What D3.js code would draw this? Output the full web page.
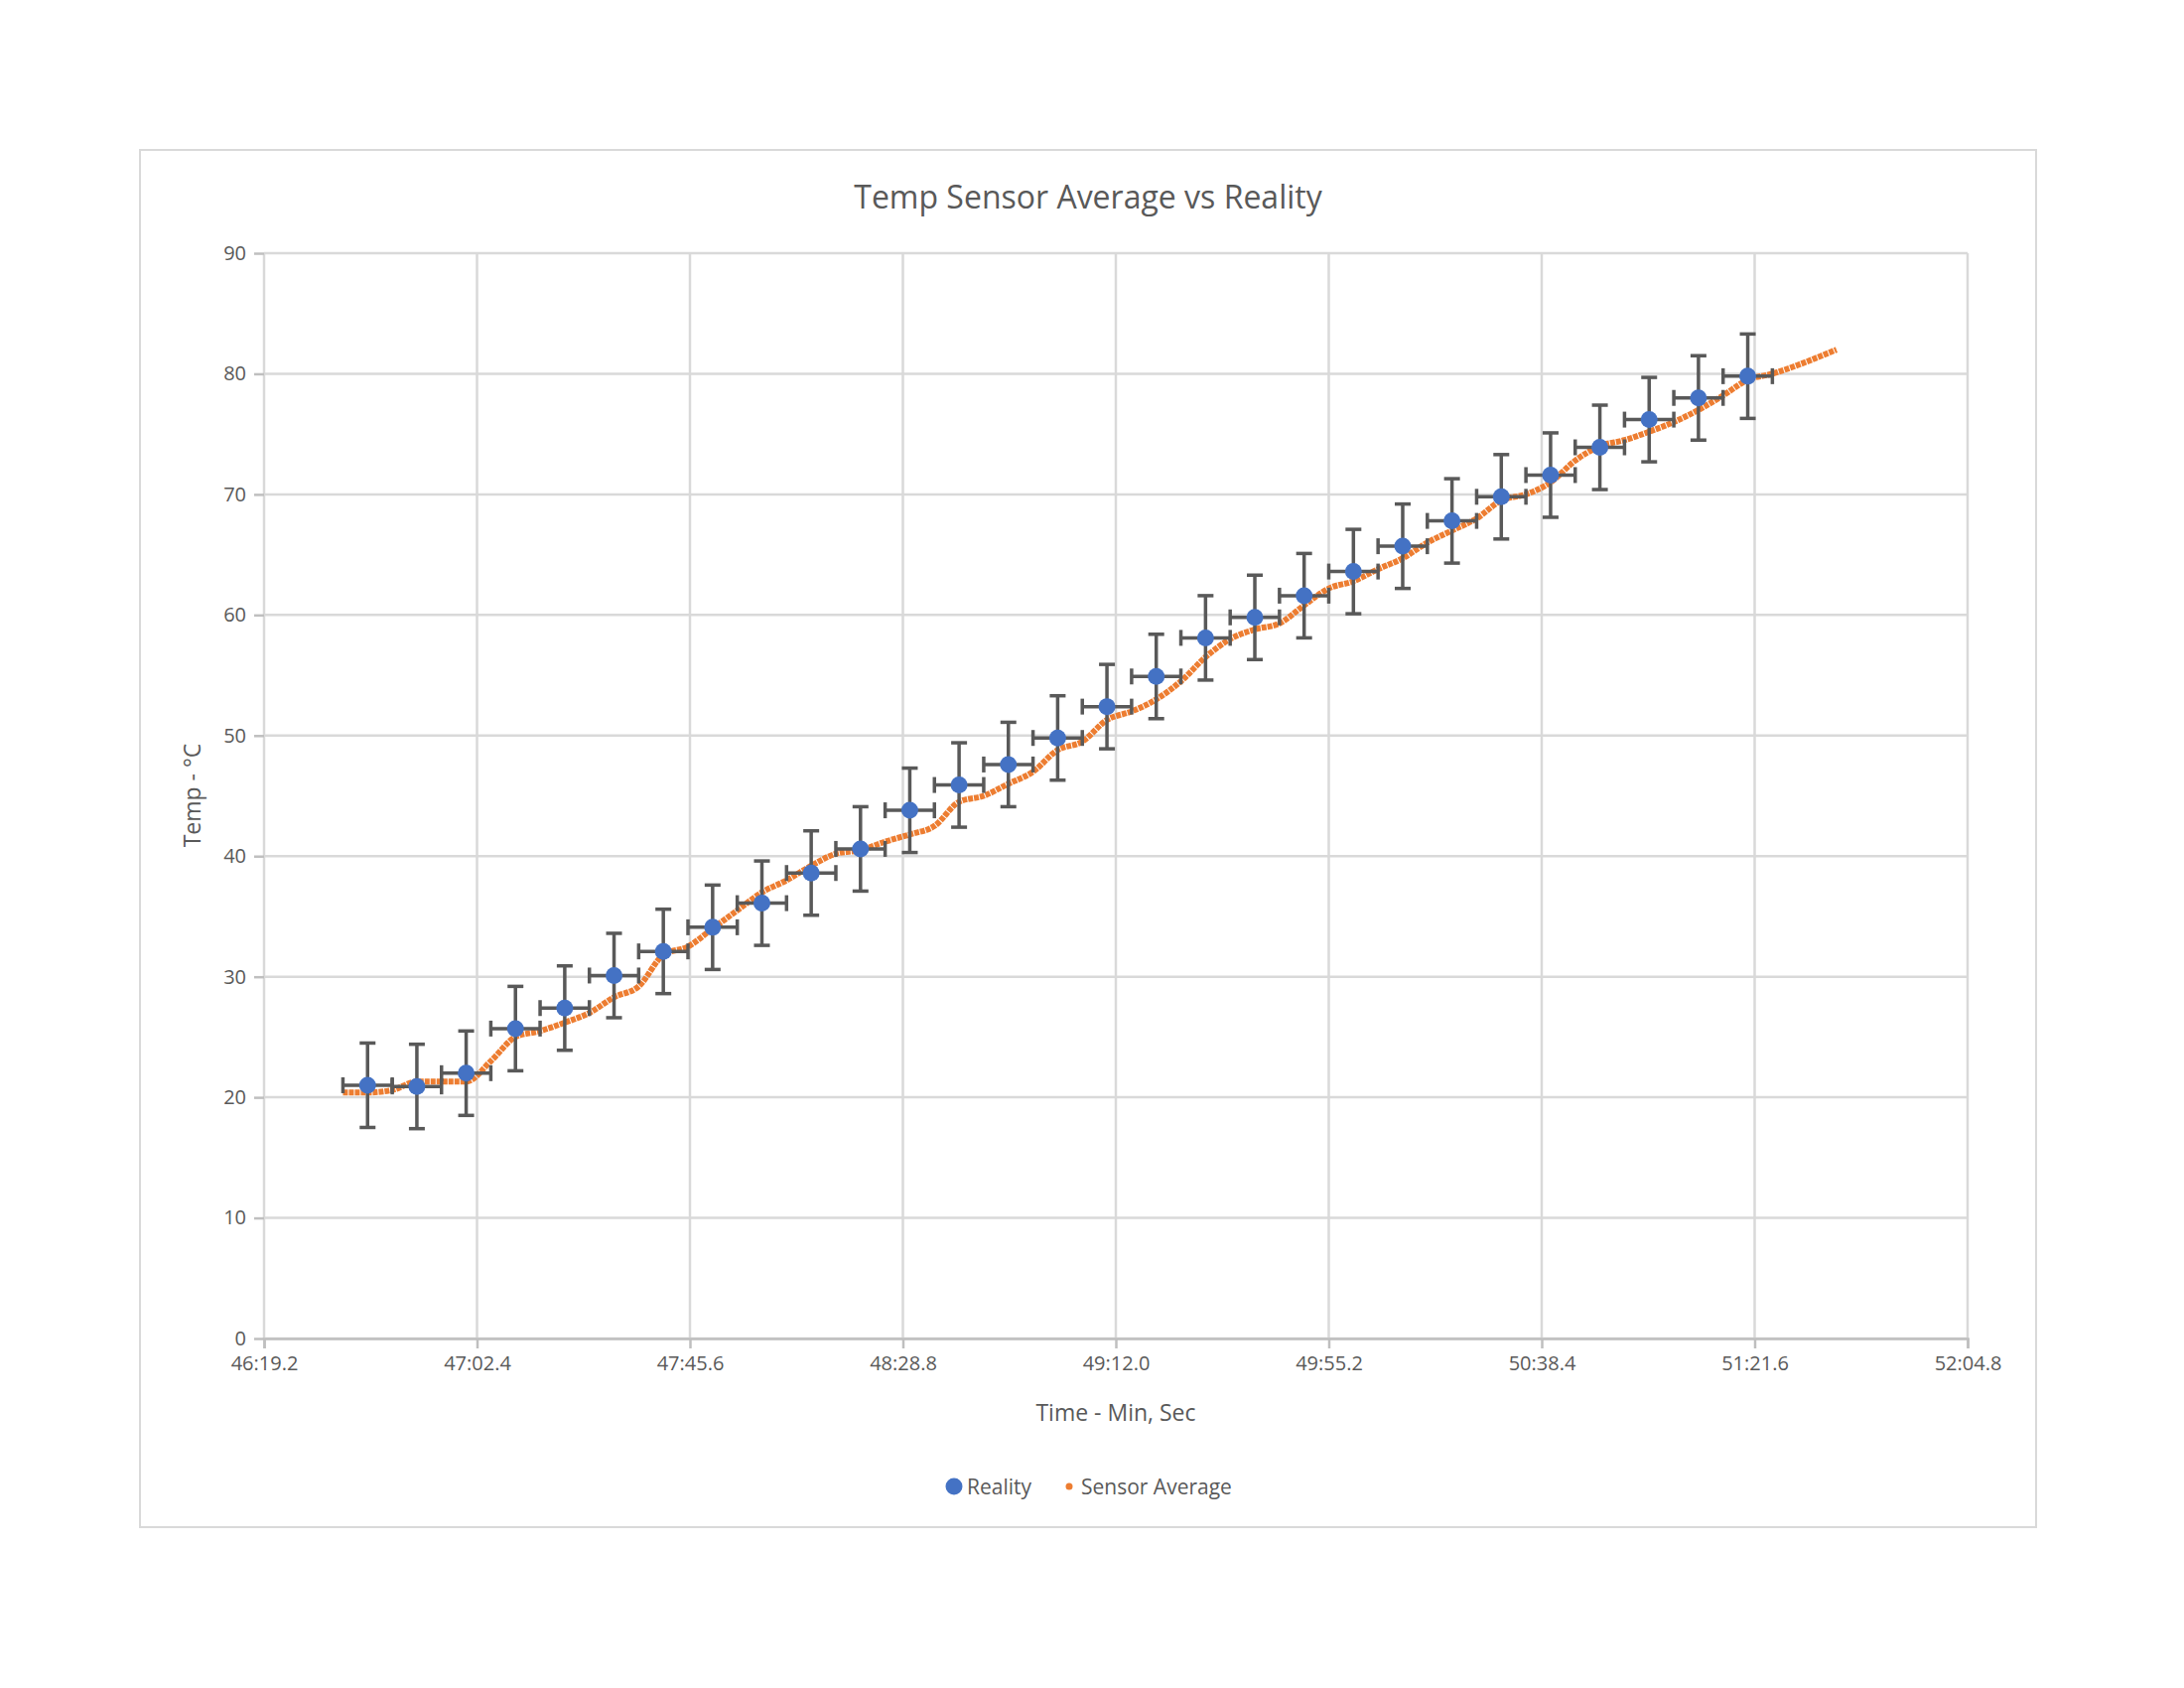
<!DOCTYPE html>
<html>
<head>
<meta charset="utf-8">
<script src="https://cdn.jsdelivr.net/npm/d3@7"></script>
<style>
  body { margin: 0; background: #fff; }
  text { font-family: "Open Sans", "Noto Sans", sans-serif; fill: #595959; }
</style>
</head>
<body>
<svg id="chart" width="2200" height="1700"></svg>
<script>
// seconds after 46:19.2
const realityTime = [21, 31, 41, 51, 61, 71, 81, 91, 101, 111, 121, 131, 141, 151, 161, 171, 181, 191, 201, 211, 221, 231, 241, 251, 261, 271, 281, 291, 301];
const realityTemp = [21.0, 20.9, 22.0, 25.7, 27.4, 30.1, 32.1, 34.1, 36.1, 38.6, 40.6, 43.8, 45.9, 47.6, 49.8, 52.4, 54.9, 58.1, 59.8, 61.6, 63.6, 65.7, 67.8, 69.8, 71.6, 73.9, 76.2, 78.0, 79.8];
const errTemp = 3.5;
const errTime = 5;

const sensorTime = [16, 21, 26, 31, 36, 41, 46, 51, 56, 61, 66, 71, 76, 81, 86, 91, 96, 101, 106, 111, 116, 121, 126, 131, 136, 141, 146, 151, 156, 161, 166, 171, 176, 181, 186, 191, 196, 201, 206, 211, 216, 221, 226, 231, 236, 241, 246, 251, 256, 261, 266, 271, 276, 281, 286, 291, 296, 301, 306, 311, 316, 319];
const sensorTemp = [20.4, 20.4, 20.6, 21.3, 21.3, 21.3, 23.0, 25.0, 25.5, 26.2, 27.0, 28.3, 29.2, 31.8, 32.5, 34.0, 35.5, 37.0, 38.0, 39.2, 40.2, 40.5, 41.2, 41.8, 42.5, 44.5, 45.0, 46.0, 47.0, 48.8, 49.5, 51.3, 52.0, 53.0, 54.5, 56.5, 58.0, 58.8, 59.3, 60.8, 62.2, 62.8, 63.8, 64.7, 66.0, 67.0, 68.0, 69.5, 70.0, 71.0, 72.8, 74.0, 74.5, 75.2, 76.0, 77.0, 78.2, 79.5, 80.0, 80.7, 81.5, 82.0];

const xTickLabels = ['46:19.2', '47:02.4', '47:45.6', '48:28.8', '49:12.0', '49:55.2', '50:38.4', '51:21.6', '52:04.8'];
const yTicks = [0, 10, 20, 30, 40, 50, 60, 70, 80, 90];

const svg = d3.select('#chart');
const plotLeft = 266, plotRight = 1982, plotTop = 255, plotBottom = 1348;

svg.append('rect').attr('x', 141).attr('y', 151).attr('width', 1910).attr('height', 1387)
  .attr('fill', '#fff').attr('stroke', '#d9d9d9').attr('stroke-width', 2);

const x = d3.scaleLinear().domain([0, 345.6]).range([plotLeft, plotRight]);
const y = d3.scaleLinear().domain([0, 90]).range([plotBottom, plotTop]);
const xTicks = xTickLabels.map((d, i) => i * 43.2);

// grid
svg.append('g').selectAll('line').data(yTicks).join('line')
  .attr('x1', plotLeft).attr('x2', plotRight).attr('y1', d => y(d)).attr('y2', d => y(d))
  .attr('stroke', '#d9d9d9').attr('stroke-width', 2.5);
svg.append('g').selectAll('line').data(xTicks).join('line')
  .attr('y1', plotTop).attr('y2', plotBottom).attr('x1', d => x(d)).attr('x2', d => x(d))
  .attr('stroke', '#d9d9d9').attr('stroke-width', 2.5);

// axes
const xAxis = d3.axisBottom(x).tickValues(xTicks).tickFormat((d, i) => xTickLabels[i]).tickSize(10).tickPadding(8);
const gx = svg.append('g').attr('transform', `translate(0,${plotBottom})`).call(xAxis);
const yAxis = d3.axisLeft(y).tickValues(yTicks).tickSize(10).tickPadding(8);
const gy = svg.append('g').attr('transform', `translate(${plotLeft},0)`).call(yAxis);
[gx, gy].forEach(g => {
  g.selectAll('.domain, line').attr('stroke', '#bfbfbf').attr('stroke-width', 2.5);
  g.selectAll('text').attr('font-size', 20).style('fill', '#595959');
});
gy.select('.domain').remove();

// sensor line
const line = d3.line().x((d, i) => x(sensorTime[i])).y(d => y(d)).curve(d3.curveMonotoneX);
svg.append('path').datum(sensorTemp).attr('d', line)
  .attr('fill', 'none').attr('stroke', '#ed7d31').attr('stroke-width', 6)
  .attr('stroke-dasharray', '5 1');

// error bars
const eb = svg.append('g').attr('stroke', '#595959').attr('stroke-width', 3.5);
realityTemp.forEach((v, i) => {
  const t = realityTime[i];
  eb.append('line').attr('x1', x(t)).attr('x2', x(t)).attr('y1', y(v - errTemp)).attr('y2', y(v + errTemp));
  eb.append('line').attr('x1', x(t) - 8).attr('x2', x(t) + 8).attr('y1', y(v - errTemp)).attr('y2', y(v - errTemp));
  eb.append('line').attr('x1', x(t) - 8).attr('x2', x(t) + 8).attr('y1', y(v + errTemp)).attr('y2', y(v + errTemp));
  eb.append('line').attr('x1', x(t - errTime)).attr('x2', x(t + errTime)).attr('y1', y(v)).attr('y2', y(v));
  eb.append('line').attr('x1', x(t - errTime)).attr('x2', x(t - errTime)).attr('y1', y(v) - 8).attr('y2', y(v) + 8);
  eb.append('line').attr('x1', x(t + errTime)).attr('x2', x(t + errTime)).attr('y1', y(v) - 8).attr('y2', y(v) + 8);
});

// reality points
svg.append('g').selectAll('circle').data(realityTemp).join('circle')
  .attr('cx', (d, i) => x(realityTime[i])).attr('cy', d => y(d)).attr('r', 8.5)
  .attr('fill', '#4472c4');

// titles
svg.append('text').attr('x', 1096).attr('y', 210).attr('text-anchor', 'middle')
  .attr('font-size', 32).text('Temp Sensor Average vs Reality');
svg.append('text').attr('x', 1124).attr('y', 1431).attr('text-anchor', 'middle')
  .attr('font-size', 23).text('Time - Min, Sec');
svg.append('text').attr('transform', 'translate(202,801) rotate(-90)').attr('text-anchor', 'middle')
  .attr('font-size', 23).text('Temp - °C');

// legend
svg.append('circle').attr('cx', 961).attr('cy', 1497).attr('r', 8.5).attr('fill', '#4472c4');
svg.append('text').attr('x', 974).attr('y', 1505).attr('font-size', 21).text('Reality');
svg.append('circle').attr('cx', 1077).attr('cy', 1497).attr('r', 3.5).attr('fill', '#ed7d31');
svg.append('text').attr('x', 1089).attr('y', 1505).attr('font-size', 21).text('Sensor Average');
</script>
</body>
</html>
